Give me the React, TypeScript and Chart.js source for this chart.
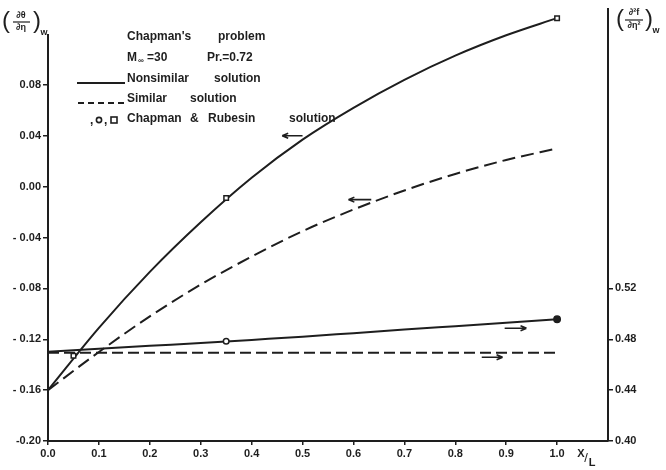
import React, { useEffect, useRef } from "react";
import { Chart, registerables } from "chart.js";

Chart.register(...registerables);

// Streamwise stations x/L
const xPositions = [0, 0.1, 0.2, 0.3, 0.4, 0.5, 0.6, 0.7, 0.8, 0.9, 1.0];

// Wall heat flux (dθ/dη)_w — left axis
const heatFluxNonsimilar = [-0.16, -0.111, -0.067, -0.028, 0.007, 0.037, 0.062, 0.084, 0.103, 0.119, 0.1325];
const heatFluxSimilar = [-0.16, -0.13, -0.102, -0.077, -0.055, -0.035, -0.018, -0.003, 0.01, 0.021, 0.03];

// Wall shear (d²f/dη²)_w — right axis
const shearNonsimilar = [0.4702, 0.4725, 0.4748, 0.477, 0.4795, 0.482, 0.4848, 0.4876, 0.4903, 0.493, 0.4957];
const shearSimilar = [0.4694, 0.4694, 0.4694, 0.4694, 0.4694, 0.4694, 0.4694, 0.4694, 0.4694, 0.4694, 0.4694];

// Chapman & Rubesin reference points
const crHeatX = [0.05, 0.35, 1.0];
const crHeat = [-0.133, -0.009, 0.1325];
const crShearX = [0.35, 1.0];
const crShear = [0.4784, 0.4957];

// Axis ticks
const xTickValues = [0, 0.1, 0.2, 0.3, 0.4, 0.5, 0.6, 0.7, 0.8, 0.9, 1.0];
const xTickLabels = ["0.0", "0.1", "0.2", "0.3", "0.4", "0.5", "0.6", "0.7", "0.8", "0.9", "1.0"];
const leftTickValues = [-0.2, -0.16, -0.12, -0.08, -0.04, 0, 0.04, 0.08];
const leftTickLabels = ["-0.20", "- 0.16", "- 0.12", "- 0.08", "- 0.04", "0.00", "0.04", "0.08"];
const rightTickValues = [0.4, 0.44, 0.48, 0.52];
const rightTickLabels = ["0.40", "0.44", "0.48", "0.52"];

const INK = "#1e1e1e";
const FONT = '"Liberation Sans", Arial, sans-serif';

// Small arrows telling which axis each curve belongs to (data units)
const axisArrows = [
  { axis: "yL", x0: 0.46, x1: 0.5, y: 0.04, dir: -1 },
  { axis: "yL", x0: 0.59, x1: 0.635, y: -0.0102, dir: -1 },
  { axis: "yR", x0: 0.897, x1: 0.94, y: 0.4886, dir: 1 },
  { axis: "yR", x0: 0.852, x1: 0.893, y: 0.4659, dir: 1 },
];

const annotations = {
  id: "annotations",
  afterDraw(chart: any) {
    const ctx: CanvasRenderingContext2D = chart.ctx;
    const xs = chart.scales.x;
    const yL = chart.scales.yL;
    const area = chart.chartArea;
    ctx.save();
    ctx.strokeStyle = INK;
    ctx.fillStyle = INK;

    // left axis line stops at 0.12
    ctx.lineWidth = 2;
    ctx.beginPath();
    ctx.moveTo(area.left, yL.getPixelForValue(0.12));
    ctx.lineTo(area.left, area.bottom + 1);
    ctx.stroke();

    // axis arrows
    ctx.lineWidth = 1.6;
    for (const a of axisArrows) {
      const sc = chart.scales[a.axis];
      const px0 = xs.getPixelForValue(a.x0);
      const px1 = xs.getPixelForValue(a.x1);
      const py = sc.getPixelForValue(a.y);
      ctx.beginPath();
      ctx.moveTo(px0, py);
      ctx.lineTo(px1, py);
      const tip = a.dir < 0 ? px0 : px1;
      ctx.moveTo(tip, py);
      ctx.lineTo(tip - a.dir * 6, py - 2.5);
      ctx.moveTo(tip, py);
      ctx.lineTo(tip - a.dir * 6, py + 2.5);
      ctx.stroke();
    }

    // legend block
    const word = (t: string, x: number, y: number) => ctx.fillText(t, x, y);
    ctx.font = `bold 12px ${FONT}`;
    ctx.textAlign = "left";
    ctx.textBaseline = "middle";
    word("Chapman's", 127, 37);
    word("problem", 218, 37);
    word("M", 127, 58);
    ctx.font = `bold 8px ${FONT}`;
    word("∞", 138, 61);
    ctx.font = `bold 12px ${FONT}`;
    word("=30", 147, 58);
    word("Pr.=0.72", 207, 58);
    word("Nonsimilar", 127, 79);
    word("solution", 214, 79);
    word("Similar", 127, 99);
    word("solution", 190, 99);
    word("Chapman", 127, 119);
    word("&", 190, 119);
    word("Rubesin", 208, 119);
    word("solution", 289, 119);
    ctx.lineWidth = 1.8;
    ctx.beginPath();
    ctx.moveTo(77, 83);
    ctx.lineTo(125, 83);
    ctx.stroke();
    ctx.setLineDash([6, 4]);
    ctx.beginPath();
    ctx.moveTo(78, 103);
    ctx.lineTo(125, 103);
    ctx.stroke();
    ctx.setLineDash([]);
    // ., o, □ symbols
    word(",", 90, 121);
    ctx.lineWidth = 1.6;
    ctx.beginPath();
    ctx.arc(99, 120, 2.6, 0, Math.PI * 2);
    ctx.stroke();
    word(",", 104, 121);
    ctx.strokeRect(111, 117, 6, 6);

    // left axis title (dθ/dη)_w
    ctx.font = `24px ${FONT}`;
    ctx.textAlign = "left";
    ctx.textBaseline = "middle";
    ctx.fillText("(", 2, 21);
    ctx.fillText(")", 33, 21);
    ctx.font = `bold 9px ${FONT}`;
    ctx.textAlign = "center";
    ctx.fillText("∂θ", 21, 16);
    ctx.fillText("∂η", 21, 28);
    ctx.lineWidth = 1.2;
    ctx.beginPath();
    ctx.moveTo(13, 22);
    ctx.lineTo(30, 22);
    ctx.stroke();
    ctx.fillText("w", 44, 33);

    // right axis title (d²f/dη²)_w
    ctx.font = `24px ${FONT}`;
    ctx.textAlign = "left";
    ctx.fillText("(", 616, 19);
    ctx.fillText(")", 645, 19);
    ctx.font = `bold 9px ${FONT}`;
    ctx.textAlign = "center";
    ctx.fillText("∂²f", 634, 13);
    ctx.fillText("∂η²", 634, 26);
    ctx.beginPath();
    ctx.moveTo(625, 20);
    ctx.lineTo(643, 20);
    ctx.stroke();
    ctx.fillText("w", 656, 31);

    // x-axis title X/L
    ctx.font = `bold 11px ${FONT}`;
    ctx.fillText("X", 581, 454);
    ctx.font = `13px ${FONT}`;
    ctx.fillText("/", 586, 458);
    ctx.font = `bold 11px ${FONT}`;
    ctx.fillText("L", 592, 463);

    ctx.restore();
  },
};

export default function App() {
  const ref = useRef<HTMLCanvasElement | null>(null);

  useEffect(() => {
    if (!ref.current) return;
    const tickFont = { family: FONT, size: 11, weight: "bold" as const };
    const pts = (xa: number[], ya: number[]) => xa.map((x, i) => ({ x, y: ya[i] }));

    const chart = new Chart(ref.current, {
      type: "line",
      data: {
        datasets: [
          {
            label: "Chapman & Rubesin (heat flux)",
            data: pts(crHeatX, crHeat),
            yAxisID: "yL",
            showLine: false,
            pointStyle: "rect",
            pointRadius: 3.2,
            pointBorderWidth: 1.5,
            pointBorderColor: INK,
            pointBackgroundColor: "#ffffff",
          },
          {
            label: "Chapman & Rubesin (shear)",
            data: pts(crShearX, crShear),
            yAxisID: "yR",
            showLine: false,
            pointStyle: "circle",
            pointRadius: [2.8, 3.2],
            pointBorderWidth: 1.5,
            pointBorderColor: INK,
            pointBackgroundColor: ["#ffffff", INK],
          },
          {
            label: "Nonsimilar heat flux",
            data: pts(xPositions, heatFluxNonsimilar),
            yAxisID: "yL",
            borderColor: INK,
            borderWidth: 2,
            pointRadius: 0,
            cubicInterpolationMode: "monotone",
          },
          {
            label: "Similar heat flux",
            data: pts(xPositions, heatFluxSimilar),
            yAxisID: "yL",
            borderColor: INK,
            borderWidth: 2,
            borderDash: [13, 6],
            pointRadius: 0,
            cubicInterpolationMode: "monotone",
          },
          {
            label: "Nonsimilar shear",
            data: pts(xPositions, shearNonsimilar),
            yAxisID: "yR",
            borderColor: INK,
            borderWidth: 2,
            pointRadius: 0,
            cubicInterpolationMode: "monotone",
          },
          {
            label: "Similar shear",
            data: pts(xPositions, shearSimilar),
            yAxisID: "yR",
            borderColor: INK,
            borderWidth: 2,
            borderDash: [11, 5],
            pointRadius: 0,
          },
        ],
      },
      options: {
        animation: false,
        responsive: false,
        maintainAspectRatio: false,
        layout: { padding: { top: 8, left: 0, right: 0, bottom: 0 } },
        plugins: { legend: { display: false }, tooltip: { enabled: false } },
        scales: {
          x: {
            type: "linear",
            min: 0,
            max: 1.1,
            afterBuildTicks: (s: any) => {
              s.ticks = xTickValues.map((v) => ({ value: v }));
            },
            afterFit: (s: any) => {
              s.height = 29;
            },
            ticks: {
              callback: (_v: any, i: number) => xTickLabels[i],
              color: INK,
              font: tickFont,
              padding: 2,
              maxRotation: 0,
              autoSkip: false,
            },
            grid: { drawOnChartArea: false, drawTicks: true, tickLength: 4, color: INK, lineWidth: 1.5 },
            border: { display: true, color: INK, width: 2 },
          },
          yL: {
            type: "linear",
            position: "left",
            min: -0.2,
            max: 0.14,
            afterBuildTicks: (s: any) => {
              s.ticks = leftTickValues.map((v) => ({ value: v }));
            },
            afterFit: (s: any) => {
              s.width = 48;
            },
            ticks: {
              callback: (_v: any, i: number) => leftTickLabels[i],
              color: INK,
              font: tickFont,
              padding: 2,
              autoSkip: false,
            },
            grid: { drawOnChartArea: false, drawTicks: true, tickLength: 5, color: INK, lineWidth: 1.5 },
            border: { display: false },
          },
          yR: {
            type: "linear",
            position: "right",
            min: 0.4,
            max: 0.74,
            afterBuildTicks: (s: any) => {
              s.ticks = rightTickValues.map((v) => ({ value: v }));
            },
            afterFit: (s: any) => {
              s.width = 58;
            },
            ticks: {
              callback: (_v: any, i: number) => rightTickLabels[i],
              color: INK,
              font: tickFont,
              padding: 2,
              autoSkip: false,
            },
            grid: { drawOnChartArea: false, drawTicks: true, tickLength: 5, color: INK, lineWidth: 1.5 },
            border: { display: true, color: INK, width: 2 },
          },
        },
      },
      plugins: [annotations],
    });

    return () => chart.destroy();
  }, []);

  return (
    <div style={{ position: "fixed", left: 0, top: 0, width: 666, height: 470, background: "#ffffff" }}>
      <canvas ref={ref} width={666} height={470} style={{ display: "block" }} />
    </div>
  );
}
